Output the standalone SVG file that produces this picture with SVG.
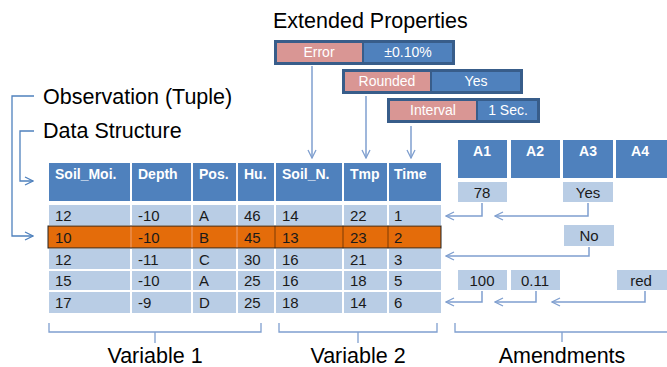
<svg xmlns="http://www.w3.org/2000/svg" width="667" height="367" viewBox="0 0 667 367">
<style>
text{font-family:"Liberation Sans",Arial,sans-serif}
.hd{fill:#4F81BD}
.cl{fill:#B9CDE5}
.or{fill:#E46C0A}
.ht{font-size:14px;font-weight:bold;fill:#fff}
.dt{font-size:15px;fill:#1a1a1a}
.big{font-size:21.5px;fill:#000}
.lab{font-size:21.5px;fill:#000;text-anchor:middle}
.pk{fill:#D99694}
.bl{fill:#4F81BD}
.ep{fill:#385D8A}
.et{font-size:14px;fill:#fff;text-anchor:middle}
.ah{font-size:14px;font-weight:bold;fill:#fff;text-anchor:middle}
.av{font-size:15px;fill:#1a1a1a;text-anchor:middle}
.ar{fill:none;stroke:#7F9FCF;stroke-width:1.5;marker-end:url(#oa)}
.ln{fill:none;stroke:#4F81BD;stroke-width:1.3}
.br{fill:none;stroke:#7F9FCF;stroke-width:1.3}
</style>
<defs>
<marker id="oa" viewBox="0 0 10 10" refX="9" refY="5" markerWidth="10" markerHeight="10" markerUnits="userSpaceOnUse" orient="auto">
<path d="M1,1 L9,5 L1,9" fill="none" stroke="#7F9FCF" stroke-width="1.3"/>
</marker>
<marker id="ob" viewBox="0 0 10 10" refX="9" refY="5" markerWidth="10" markerHeight="10" markerUnits="userSpaceOnUse" orient="auto">
<path d="M1,1 L9,5 L1,9" fill="none" stroke="#4F81BD" stroke-width="1.3"/>
</marker>
</defs>
<rect width="667" height="367" fill="#fff"/>

<g id="title-extended"><text class="big" x="273" y="28">Extended Properties</text></g>
<g id="label-observation"><text class="big" x="43" y="104">Observation (Tuple)</text></g>
<g id="label-datastructure"><text class="big" x="43" y="138">Data Structure</text></g>

<g id="prop-error">
<rect class="ep" x="274" y="40" width="181" height="25"/>
<rect class="pk" x="277" y="43" width="85" height="19"/>
<rect class="bl" x="364" y="43" width="88" height="19"/>
<text class="et" x="319" y="57">Error</text>
<text class="et" x="408" y="57">±0.10%</text>
</g>
<g id="prop-rounded">
<rect class="ep" x="342" y="69" width="181" height="25"/>
<rect class="pk" x="345" y="72" width="85" height="19"/>
<rect class="bl" x="432" y="72" width="88" height="19"/>
<text class="et" x="387" y="86">Rounded</text>
<text class="et" x="476" y="86">Yes</text>
</g>
<g id="prop-interval">
<rect class="ep" x="387" y="98" width="153" height="25"/>
<rect class="pk" x="390" y="101" width="86" height="19"/>
<rect class="bl" x="478" y="101" width="59" height="19"/>
<text class="et" x="433" y="115">Interval</text>
<text class="et" x="508" y="115">1 Sec.</text>
</g>

<g id="table">
<rect class="hd" x="49" y="163" width="81" height="38"/>
<rect class="hd" x="132" y="163" width="59" height="38"/>
<rect class="hd" x="193" y="163" width="43" height="38"/>
<rect class="hd" x="238" y="163" width="36" height="38"/>
<rect class="hd" x="276" y="163" width="66" height="38"/>
<rect class="hd" x="344" y="163" width="43" height="38"/>
<rect class="hd" x="389" y="163" width="52" height="38"/>
<text class="ht" x="55" y="179">Soil_Moi.</text>
<text class="ht" x="138" y="179">Depth</text>
<text class="ht" x="199" y="179">Pos.</text>
<text class="ht" x="244" y="179">Hu.</text>
<text class="ht" x="282" y="179">Soil_N.</text>
<text class="ht" x="350" y="179">Tmp</text>
<text class="ht" x="394" y="179">Time</text>

<g id="row1">
<rect class="cl" x="49" y="205" width="81" height="20"/><rect class="cl" x="132" y="205" width="59" height="20"/><rect class="cl" x="193" y="205" width="43" height="20"/><rect class="cl" x="238" y="205" width="36" height="20"/><rect class="cl" x="276" y="205" width="66" height="20"/><rect class="cl" x="344" y="205" width="43" height="20"/><rect class="cl" x="389" y="205" width="52" height="20"/>
<text class="dt" y="221"><tspan x="55">12</tspan><tspan x="138">-10</tspan><tspan x="199">A</tspan><tspan x="244">46</tspan><tspan x="282">14</tspan><tspan x="350">22</tspan><tspan x="394">1</tspan></text>
</g>
<g id="row2">
<rect class="or" x="48" y="226" width="393" height="22"/>
<path d="M131,226V248M192,226V248M237,226V248" stroke="#F0A070" stroke-width="1"/>
<path d="M275,226V248M343,226V248M388,226V248" stroke="#7a3a05" stroke-width="1"/>
<rect x="48" y="226" width="393" height="22" fill="none" stroke="#222" stroke-width="1"/>
<text class="dt" y="243"><tspan x="55">10</tspan><tspan x="138">-10</tspan><tspan x="199">B</tspan><tspan x="244">45</tspan><tspan x="282">13</tspan><tspan x="350">23</tspan><tspan x="394">2</tspan></text>
</g>
<g id="row3">
<rect class="cl" x="49" y="249" width="81" height="20"/><rect class="cl" x="132" y="249" width="59" height="20"/><rect class="cl" x="193" y="249" width="43" height="20"/><rect class="cl" x="238" y="249" width="36" height="20"/><rect class="cl" x="276" y="249" width="66" height="20"/><rect class="cl" x="344" y="249" width="43" height="20"/><rect class="cl" x="389" y="249" width="52" height="20"/>
<text class="dt" y="265"><tspan x="55">12</tspan><tspan x="138">-11</tspan><tspan x="199">C</tspan><tspan x="244">30</tspan><tspan x="282">16</tspan><tspan x="350">21</tspan><tspan x="394">3</tspan></text>
</g>
<g id="row4">
<rect class="cl" x="49" y="271" width="81" height="19"/><rect class="cl" x="132" y="271" width="59" height="19"/><rect class="cl" x="193" y="271" width="43" height="19"/><rect class="cl" x="238" y="271" width="36" height="19"/><rect class="cl" x="276" y="271" width="66" height="19"/><rect class="cl" x="344" y="271" width="43" height="19"/><rect class="cl" x="389" y="271" width="52" height="19"/>
<text class="dt" y="286"><tspan x="55">15</tspan><tspan x="138">-10</tspan><tspan x="199">A</tspan><tspan x="244">25</tspan><tspan x="282">16</tspan><tspan x="350">18</tspan><tspan x="394">5</tspan></text>
</g>
<g id="row5">
<rect class="cl" x="49" y="292" width="81" height="21"/><rect class="cl" x="132" y="292" width="59" height="21"/><rect class="cl" x="193" y="292" width="43" height="21"/><rect class="cl" x="238" y="292" width="36" height="21"/><rect class="cl" x="276" y="292" width="66" height="21"/><rect class="cl" x="344" y="292" width="43" height="21"/><rect class="cl" x="389" y="292" width="52" height="21"/>
<text class="dt" y="308"><tspan x="55">17</tspan><tspan x="138">-9</tspan><tspan x="199">D</tspan><tspan x="244">25</tspan><tspan x="282">18</tspan><tspan x="350">14</tspan><tspan x="394">6</tspan></text>
</g>
</g>

<g id="amendments">
<rect class="hd" x="458" y="140" width="49" height="38"/>
<rect class="hd" x="511" y="140" width="49" height="38"/>
<rect class="hd" x="563" y="140" width="50" height="38"/>
<rect class="hd" x="616" y="140" width="51" height="38"/>
<text class="ah" x="482" y="156">A1</text>
<text class="ah" x="535" y="156">A2</text>
<text class="ah" x="588" y="156">A3</text>
<text class="ah" x="640" y="156">A4</text>
<rect class="cl" x="458" y="182" width="49" height="20"/><text class="av" x="482" y="198">78</text>
<rect class="cl" x="563" y="182" width="50" height="20"/><text class="av" x="588" y="198">Yes</text>
<rect class="cl" x="564" y="225" width="50" height="21"/><text class="av" x="589" y="241">No</text>
<rect class="cl" x="458" y="270" width="49" height="20"/><text class="av" x="482" y="286">100</text>
<rect class="cl" x="511" y="270" width="49" height="20"/><text class="av" x="535" y="286">0.11</text>
<rect class="cl" x="617" y="270" width="50" height="20"/><text class="av" x="641" y="286">red</text>
</g>

<g id="connectors">
<path class="ar" d="M312,66V158"/>
<path class="ar" d="M366,96V158"/>
<path class="ar" d="M411,126V158"/>
<path class="ar" d="M482,203V216H446"/>
<path class="ar" d="M588,203V216H495"/>
<path class="ar" d="M589,247V256H446"/>
<path class="ar" d="M482,291V302H446"/>
<path class="ar" d="M536,291V302H495"/>
<path class="ar" d="M645,291V302H552"/>
<path class="ln" d="M34,96H12V236H33" marker-end="url(#ob)"/>
<path class="ln" d="M34,131H20V181H33" marker-end="url(#ob)"/>
</g>

<g id="brackets">
<path class="br" d="M49,323V332H261V323M155,332V343"/>
<path class="br" d="M279,323V332H437V323M358,332V343"/>
<path class="br" d="M455,323V332H667M562,332V342"/>
<text class="lab" x="155" y="363">Variable 1</text>
<text class="lab" x="358" y="363">Variable 2</text>
<text class="lab" x="562" y="363">Amendments</text>
</g>
</svg>
